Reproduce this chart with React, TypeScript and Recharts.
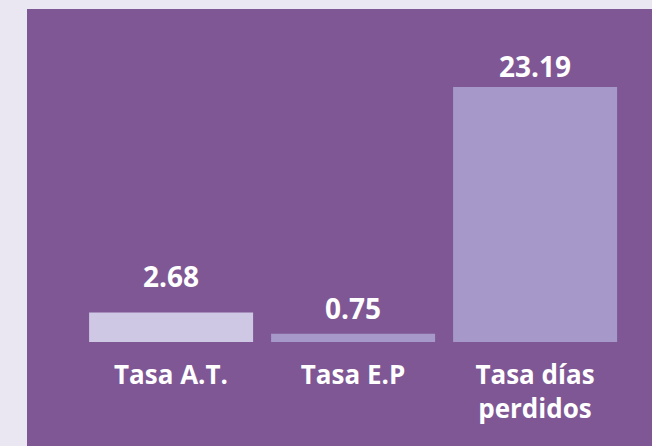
import React from "react";
import { BarChart, Bar, XAxis, YAxis, Cell, LabelList } from "recharts";

const categories = ["Tasa A.T.", "Tasa E.P", "Tasa días\nperdidos"];
const values = [2.68, 0.75, 23.19];
const barColors = ["#cec8e5", "#a699ca", "#a699ca"];

const data = categories.map((name, i) => ({ name, value: values[i] }));

// distance from bar top to the label baseline, as in the source
const labelGaps = [26, 15, 10];

const FONT = "'Open Sans', 'Noto Sans', sans-serif";

function CategoryTick(props: any) {
  const { x, y, payload } = props;
  const lines = String(payload.value).split("\n");
  return (
    <text
      x={x}
      y={y}
      textAnchor="middle"
      fill="#ffffff"
      fontFamily={FONT}
      fontWeight={700}
      fontSize={26}
    >
      {lines.map((line, i) => (
        <tspan key={i} x={x} dy={i === 0 ? 42 : 34}>
          {line}
        </tspan>
      ))}
    </text>
  );
}

function ValueLabel(props: any) {
  const { x, y, width, value, index } = props;
  return (
    <text
      x={x + width / 2}
      y={y - labelGaps[index]}
      textAnchor="middle"
      fill="#ffffff"
      fontFamily={FONT}
      fontWeight={700}
      fontSize={28}
    >
      {value.toFixed(2)}
    </text>
  );
}

export default function App() {
  return (
    <div
      style={{
        position: "fixed",
        left: 0,
        top: 0,
        width: 652,
        height: 446,
        background: "#ebe7f2",
        overflow: "hidden",
      }}
    >
      <div
        style={{
          position: "absolute",
          left: 27,
          top: 9,
          width: 625,
          height: 437,
          background: "#7f5795",
        }}
      >
        <BarChart
          width={625}
          height={437}
          data={data}
          margin={{ top: 58, right: 26, bottom: 0, left: 53 }}
          barCategoryGap="5%"
        >
          <XAxis
            dataKey="name"
            axisLine={false}
            tickLine={false}
            tickSize={0}
            tickMargin={0}
            height={104}
            interval={0}
            tick={<CategoryTick />}
          />
          <YAxis hide domain={[0, 25]} />
          <Bar dataKey="value" isAnimationActive={false}>
            {data.map((d, i) => (
              <Cell key={d.name} fill={barColors[i]} />
            ))}
            <LabelList dataKey="value" content={<ValueLabel />} />
          </Bar>
        </BarChart>
      </div>
    </div>
  );
}
